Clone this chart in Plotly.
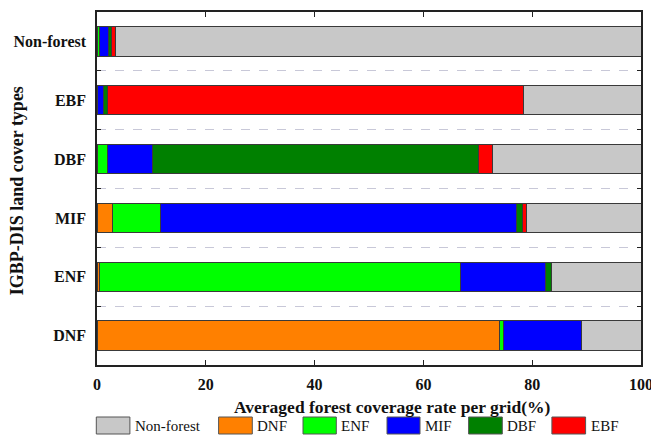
import plotly.graph_objects as go

# IGBP-DIS land cover classes (rows, listed top to bottom)
land_cover = ["Non-forest", "EBF", "DBF", "MIF", "ENF", "DNF"]

# Averaged forest coverage rate per grid (%) for each component, per row
dnf = [0.0, 0.0, 0.0, 2.9, 0.45, 74.0]
enf = [0.5, 0.1, 1.9, 8.8, 66.45, 0.7]
mif = [1.6, 1.1, 8.35, 65.5, 15.6, 14.4]
dbf = [0.5, 0.8, 59.9, 1.1, 1.0, 0.0]
ebf = [0.8, 76.4, 2.6, 0.6, 0.0, 0.0]
non_forest = [96.6, 21.6, 27.25, 21.1, 16.5, 10.9]

x_ticks = [0, 20, 40, 60, 80, 100]
x_tick_labels = ["0", "20", "40", "60", "80", "100"]

series = [
    ("DNF", dnf, "#FF8000"),
    ("ENF", enf, "#00FF00"),
    ("MIF", mif, "#0000FF"),
    ("DBF", dbf, "#008000"),
    ("EBF", ebf, "#FF0000"),
    ("Non-forest", non_forest, "#C8C8C8"),
]
legend_order = ["Non-forest", "DNF", "ENF", "MIF", "DBF", "EBF"]
colors = {name: c for name, _, c in series}

FONT = "Times New Roman, Liberation Serif, Tinos, DejaVu Serif, serif"

fig = go.Figure()
for name, vals, color in series:
    # no outline on empty segments so they leave no stray edge
    widths = [1 if v > 0 else 0 for v in vals]
    fig.add_trace(go.Bar(
        y=land_cover, x=vals, name=name, orientation="h",
        marker=dict(color=color, line=dict(color="#3a3a3a", width=widths)),
        showlegend=False,
    ))

# Legend row drawn beneath the axis title
legend_boxes = [(96, 129.6), (218.3, 252), (302.7, 336), (386.7, 419.7), (468.3, 502), (551.6, 585.3)]
W, H = 651, 435
L, R, T, B = 96.7, 640.7, 12, 365
pw, ph = R - L, B - T


def px_x(px):
    return (px - L) / pw


def px_y(py):
    return (B - py) / ph


shapes = []
annotations = []
for name, (x0, x1) in zip(legend_order, legend_boxes):
    shapes.append(dict(
        type="rect", xref="paper", yref="paper",
        x0=px_x(x0), x1=px_x(x1), y0=px_y(434), y1=px_y(417),
        fillcolor=colors[name], line=dict(color="#555555", width=1),
    ))
    annotations.append(dict(
        text=name, xref="paper", yref="paper", x=px_x(x1 + 3), y=px_y(425.5),
        xanchor="left", yanchor="middle", showarrow=False,
        font=dict(family=FONT, size=15, color="#111111"),
    ))

# axis titles placed by hand so the plot frame stays fixed
annotations.append(dict(
    text="<b>IGBP-DIS land cover types</b>", xref="paper", yref="paper",
    x=px_x(17), y=px_y(191), textangle=-90, xanchor="center", yanchor="middle",
    showarrow=False, font=dict(family=FONT, size=18, color="#111111"),
))
annotations.append(dict(
    text="<b>Averaged forest coverage rate per grid(%)</b>", xref="paper", yref="paper",
    x=px_x(392), y=px_y(407), xanchor="center", yanchor="middle",
    showarrow=False, font=dict(family=FONT, size=17.5, color="#111111"),
))

fig.update_layout(
    width=W, height=H,
    margin=dict(l=L, r=W - R, t=T, b=H - B, autoexpand=False),
    barmode="stack",
    bargap=0.5,
    plot_bgcolor="white",
    paper_bgcolor="white",
    font=dict(family=FONT, color="#111111"),
    shapes=shapes,
    annotations=annotations,
)
fig.update_xaxes(
    range=[0, 100], tickvals=x_ticks,
    ticktext=[f"<b>{t}</b>" for t in x_tick_labels], automargin=False,
    ticklabeloverflow="allow", ticklabelstandoff=4,
    ticks="inside", ticklen=5, tickcolor="#222222", tickwidth=1,
    showline=True, linecolor="#222222", linewidth=1.5, mirror="ticks",
    showgrid=False, zeroline=False,
    tickfont=dict(family=FONT, size=16, color="#111111"),
)
fig.update_yaxes(
    type="category", categoryorder="array", categoryarray=land_cover[::-1],
    range=[-0.5, 5.5], tickson="boundaries", automargin=False,
    ticks="inside", ticklen=4, tickcolor="#222222",
    showline=True, linecolor="#222222", linewidth=1.5, mirror="ticks",
    showgrid=True, gridcolor="#C8C8D8", griddash="dash", gridwidth=1,
    ticklabelstandoff=6,
    tickfont=dict(family=FONT, size=16, color="#111111", weight="bold"),
)

fig.write_html("out.html")
